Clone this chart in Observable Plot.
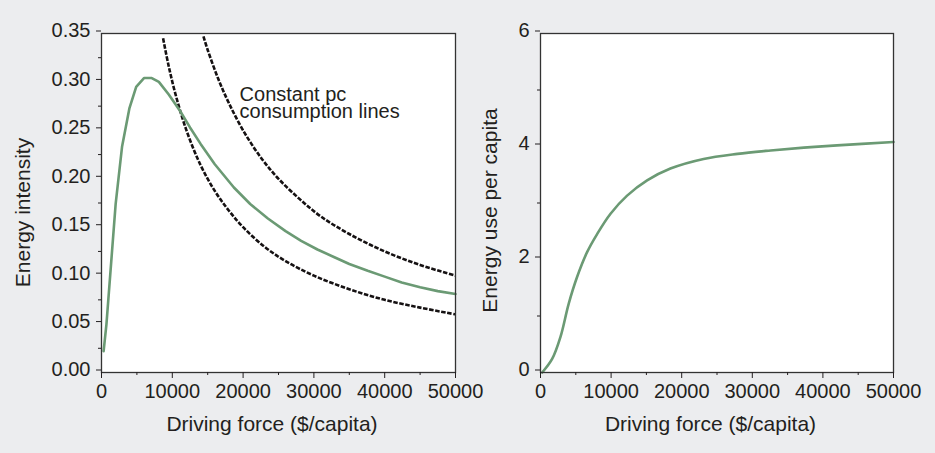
<!DOCTYPE html>
<html>
<head>
<meta charset="utf-8">
<script src="https://cdn.jsdelivr.net/npm/d3@7"></script>
<script src="https://cdn.jsdelivr.net/npm/@observablehq/plot@0.6"></script>
<style>
  html, body { margin: 0; padding: 0; background: #ecedef; }
  #wrap { position: relative; width: 935px; height: 453px; background: #ecedef; overflow: hidden; }
  #left, #right { position: absolute; top: 0; }
  #left { left: 0; }
  #right { left: 470px; }
  svg { overflow: visible; }
</style>
</head>
<body>
<div id="wrap"><div id="left"></div><div id="right"></div></div>
<script>
// ---------- data ----------
const drivingForce = [300, 700, 2000, 2900, 3950, 4900, 6000, 7100, 8100, 9500, 11100, 12500, 14000, 16000, 18700, 21000, 23500, 26000, 28200, 30500, 32900, 35000, 37600, 40000, 42400, 45000, 47500, 50000];
const energyIntensity = [0.022, 0.05, 0.174, 0.233, 0.273, 0.295, 0.304, 0.304, 0.300, 0.287, 0.270, 0.253, 0.236, 0.215, 0.191, 0.174, 0.159, 0.146, 0.136, 0.127, 0.119, 0.112, 0.105, 0.099, 0.093, 0.088, 0.084, 0.081];

const lowerConstX = [8700, 9500, 10500, 12000, 14000, 16000, 18000, 20000, 23000, 26000, 30000, 35000, 40000, 45000, 50000];
const lowerConstY = [0.345, 0.316, 0.286, 0.250, 0.214, 0.1875, 0.167, 0.150, 0.130, 0.115, 0.100, 0.086, 0.075, 0.067, 0.060];

const upperConstX = [14400, 15000, 16500, 18000, 20000, 22500, 25000, 28000, 31000, 35000, 40000, 45000, 50000];
const upperConstY = [0.347, 0.333, 0.303, 0.278, 0.250, 0.222, 0.200, 0.179, 0.161, 0.143, 0.125, 0.111, 0.100];

const useX = [240, 1650, 2830, 4000, 5180, 6600, 8020, 9920, 12270, 15100, 18400, 23100, 27900, 32600, 37300, 42000, 50000];
const useY = [0, 0.24, 0.63, 1.22, 1.69, 2.13, 2.45, 2.81, 3.13, 3.40, 3.61, 3.78, 3.87, 3.93, 3.98, 4.02, 4.08];

const xTicks = [0, 10000, 20000, 30000, 40000, 50000];
const xMinorTicks = [5000, 15000, 25000, 35000, 45000];
const leftYTicks = [0, 0.05, 0.10, 0.15, 0.20, 0.25, 0.30, 0.35];
const leftYMinorTicks = [0.025, 0.075, 0.125, 0.175, 0.225, 0.275, 0.325];
const rightYTicks = [0, 2, 4, 6];
const rightYMinorTicks = [1, 3, 5];

const xLabel = "Driving force ($/capita)";
const leftYLabel = "Energy intensity";
const rightYLabel = "Energy use per capita";
const note = "Constant pc\nconsumption lines";
const noteX = 19500, noteY = 0.293;

// ---------- styling ----------
const ink = "#231f20";
const green = "#6b9a74";
const font = "'Liberation Sans', Arial, Helvetica, sans-serif";

const toPts = (xs, ys) => xs.map((x, i) => ({x, y: ys[i]}));

function axesFor(yTicks, yMinor, yFmt, yLabel) {
  return [
    Plot.axisX(xTicks, {tickSize: 6, tickPadding: 5, tickFormat: d => String(d), stroke: ink, fill: ink, label: null, fontSize: 20}),
    Plot.axisX(xMinorTicks, {tickSize: 3, tickFormat: () => "", stroke: ink, label: null}),
    Plot.axisY(yTicks, {tickSize: 5, tickPadding: 6, tickFormat: yFmt, stroke: ink, fill: ink, label: null, fontSize: 20, dy: -2.5}),
    Plot.axisY(yMinor, {tickSize: 3, tickFormat: () => "", stroke: ink, label: null}),
    Plot.text([xLabel], {frameAnchor: "bottom", dy: 52, dx: -6.5, lineAnchor: "middle", fill: ink, fontSize: 21}),
    Plot.text([yLabel], {frameAnchor: "left", rotate: -90, lineAnchor: "middle", textAnchor: "middle", fill: ink, fontSize: 21})
  ];
}

const dashStyle = {stroke: "#151112", strokeWidth: 2.6, strokeDasharray: "4.5,1.6", strokeLinecap: "butt", curve: "catmull-rom", clip: true};

// ---------- left panel ----------
const left = Plot.plot({
  width: 470, height: 453,
  marginLeft: 101, marginRight: 15, marginTop: 33, marginBottom: 81,
  style: {fontFamily: font, background: "transparent", color: ink, overflow: "visible"},
  x: {domain: [0, 50000]},
  y: {domain: [0, 0.35]},
  marks: [
    Plot.frame({fill: "white", stroke: null}),
    Plot.line(toPts(lowerConstX, lowerConstY), {x: "x", y: "y", ...dashStyle}),
    Plot.line(toPts(upperConstX, upperConstY), {x: "x", y: "y", ...dashStyle}),
    Plot.line(toPts(drivingForce, energyIntensity), {x: "x", y: "y", stroke: green, strokeWidth: 2.6}),
    Plot.text([note], {x: () => noteX, y: () => noteY, textAnchor: "start", lineAnchor: "top", lineHeight: 0.85, fill: ink, fontSize: 20}),
    Plot.frame({stroke: "#333", strokeWidth: 1.3}),
    ...axesFor(leftYTicks, leftYMinorTicks, d3.format(".2f"), leftYLabel)
  ]
});

// ---------- right panel ----------
const right = Plot.plot({
  width: 465, height: 453,
  marginLeft: 70, marginRight: 42, marginTop: 33, marginBottom: 81,
  style: {fontFamily: font, background: "transparent", color: ink, overflow: "visible"},
  x: {domain: [0, 50000]},
  y: {domain: [0, 6]},
  marks: [
    Plot.frame({fill: "white", stroke: null}),
    Plot.line(toPts(useX, useY), {x: "x", y: "y", curve: "catmull-rom", stroke: green, strokeWidth: 2.6}),
    Plot.frame({stroke: "#333", strokeWidth: 1.3}),
    ...axesFor(rightYTicks, rightYMinorTicks, d => String(d), rightYLabel)
  ]
});

document.getElementById("left").appendChild(left);
document.getElementById("right").appendChild(right);

// position rotated y labels (offset from the frame's left edge)
function placeYLabel(svg, offset, dyShift) {
  const texts = Array.from(svg.querySelectorAll("text")).filter(t => t.textContent === leftYLabel || t.textContent === rightYLabel);
  texts.forEach(t => {
    const g = t.parentNode;
    g.setAttribute("transform", `translate(${-offset},${dyShift})`);
  });
}
placeYLabel(left, 78, 10);
placeYLabel(right, 49.5, 8);
</script>
</body>
</html>
